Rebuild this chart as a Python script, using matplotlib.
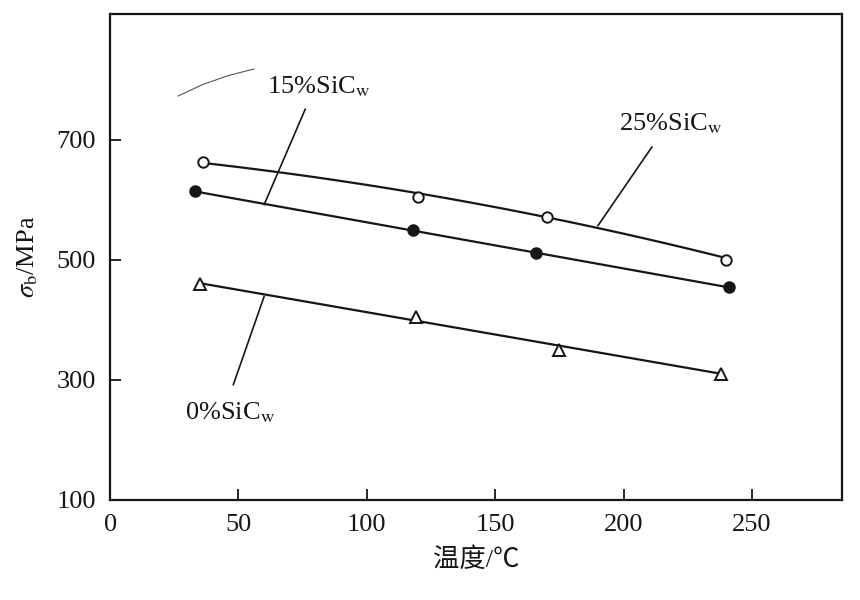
import numpy as np
import matplotlib
matplotlib.use('Agg')
import matplotlib.pyplot as plt

plt.rcParams['font.family'] = ['Liberation Serif', 'Noto Sans CJK SC', 'DejaVu Sans']
plt.rcParams['mathtext.fontset'] = 'stix'

# Data (temperature in C, strength in MPa)
temp_25 = [36, 120, 170, 240]
sigma_25 = [663, 604, 572, 499]
temp_15 = [33, 118, 166, 241]
sigma_15 = [614, 549, 512, 454]
temp_0 = [35, 119, 175, 238]
sigma_0 = [459, 404, 350, 309]

# fitted curves as drawn in the figure
curve_x_25 = [36, 120, 170, 190, 240]
curve_y_25 = [663, 605, 573, 558, 500]
line_x_15 = [33, 241]
line_y_15 = [614, 454]
line_x_0 = [35, 238]
line_y_0 = [461, 310]

# faint stray stroke in the scan
stroke_x = [26.5, 36, 46, 56]
stroke_y = [773, 792, 807, 818]

x_ticks = [0, 50, 100, 150, 200, 250]
y_ticks = [100, 300, 500, 700]

ink = '#1a1418'

fig = plt.figure(figsize=(8.6, 6), dpi=100)
ax = fig.add_axes([0.128, 0.167, 0.851, 0.81])

# 25% curve bends down a little at the hot end
coef = np.polyfit(curve_x_25, curve_y_25, 2)
xs = np.linspace(curve_x_25[0], curve_x_25[-1], 120)
ax.plot(xs, np.polyval(coef, xs), color=ink, lw=1.6, zorder=2)
ax.plot(line_x_15, line_y_15, color=ink, lw=1.6, zorder=2)
ax.plot(line_x_0, line_y_0, color=ink, lw=1.6, zorder=2)

ax.plot(temp_25, sigma_25, 'o', ms=7.5, mfc='white', mec=ink, mew=1.4, zorder=3)
ax.plot(temp_15, sigma_15, 'o', ms=8, mfc=ink, mec=ink, zorder=3)
ax.plot(temp_0, sigma_0, '^', ms=8, mfc='white', mec=ink, mew=1.4, zorder=3)

# labels with leader lines
ax.plot([76, 60], [751, 592], color=ink, lw=1.2)
ax.text(61, 788, r'15%SiC$_\mathrm{w}$', fontsize=19, va='center', ha='left', color=ink)
ax.plot([211, 190], [688, 557], color=ink, lw=1.2)
ax.text(198, 726, r'25%SiC$_\mathrm{w}$', fontsize=19, va='center', ha='left', color=ink)
ax.plot([60, 48], [439, 292], color=ink, lw=1.2)
ax.text(29, 245, r'0%SiC$_\mathrm{w}$', fontsize=19, va='center', ha='left', color=ink)

ax.plot(stroke_x, stroke_y, color='#555555', lw=0.8)

ax.set_xlim(0, 285)
ax.set_ylim(100, 910)
ax.set_xticks(x_ticks)
ax.set_yticks(y_ticks)
ax.tick_params(direction='in', length=8, width=1.3, labelsize=19, colors=ink, pad=10)
for s in ax.spines.values():
    s.set_linewidth(1.6)
    s.set_color(ink)

ax.set_xlabel('温度/℃', fontsize=19, color=ink, labelpad=8)
ax.set_ylabel(r'$\sigma_\mathrm{b}$/MPa', fontsize=19, color=ink, labelpad=12)

fig.savefig('out.png', dpi=100)
